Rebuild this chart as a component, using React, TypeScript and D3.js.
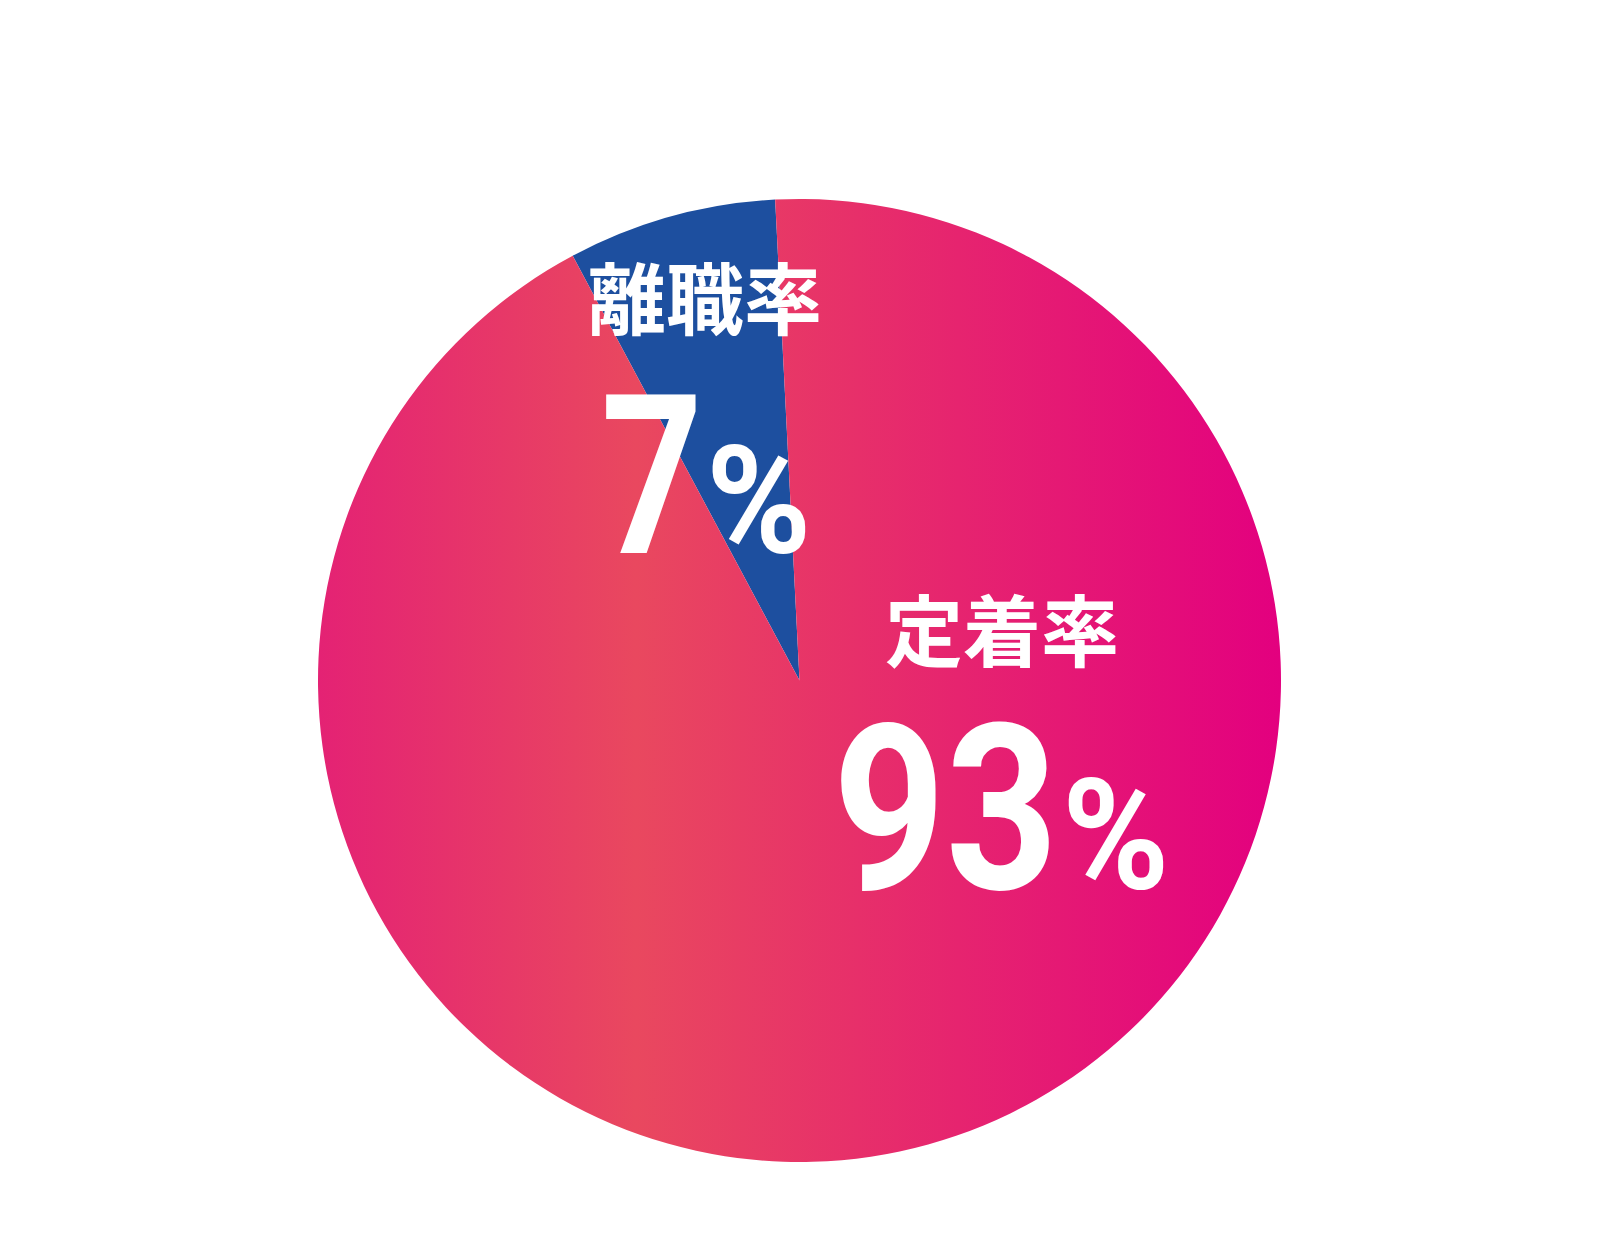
import { useMemo } from "react";
import * as d3 from "d3";

const width = 1600;
const height = 1240;

const centerX = 799.5;
const centerY = 680.5;
const radius = 481.5;

// 割合データ
const categories = ["離職率", "定着率"];
const rates = [7, 93];
const sliceColors = ["#1d4f9f", "url(#pinkGrad)"];

// 表示位置（ラベル）
const labelLayout = [
  { titleX: 705, titleY: 295, numX: 601, numY: 553, numSize: 222, numScale: 0.8, pctX: 706, pctSize: 150, pctScale: 0.95 },
  { titleX: 1002, titleY: 627, numX: 833, numY: 889, numSize: 232, numScale: 0.845, pctX: 1062, pctSize: 154, pctScale: 0.943 },
];

const startDeg = -28.1;

export default function App() {
  const arcs = useMemo(() => {
    const pie = d3
      .pie<number>()
      .sort(null)
      .value((d) => d)
      .startAngle((startDeg * Math.PI) / 180)
      .endAngle((startDeg * Math.PI) / 180 + Math.PI * 2);
    return pie(rates);
  }, []);

  const arc = d3.arc<d3.PieArcDatum<number>>().innerRadius(0).outerRadius(radius);

  return (
    <svg
      width={width}
      height={height}
      viewBox={`0 0 ${width} ${height}`}
      style={{ position: "absolute", top: 0, left: 0, background: "#ffffff" }}
    >
      <defs>
        {/* グループ内座標（中心が原点） */}
        <linearGradient
          id="pinkGrad"
          gradientUnits="userSpaceOnUse"
          x1={-radius}
          y1={0}
          x2={radius}
          y2={0}
        >
          <stop offset="0" stopColor="#e42274" />
          <stop offset="0.33" stopColor="#e9485f" />
          <stop offset="1" stopColor="#e3007f" />
        </linearGradient>
      </defs>

      <g transform={`translate(${centerX},${centerY})`}>
        {arcs.map((d, i) => (
          <path key={categories[i]} d={arc(d) ?? ""} fill={sliceColors[i]} />
        ))}
      </g>

      {categories.map((name, i) => {
        const l = labelLayout[i];
        return (
          <g key={name} fill="#ffffff">
            <text
              x={l.titleX}
              y={l.titleY}
              textAnchor="middle"
              dominantBaseline="central"
              style={{
                fontFamily: "'Noto Sans CJK JP', sans-serif",
                fontWeight: 700,
                fontSize: 78,
              }}
            >
              {name}
            </text>
            <text
              transform={`translate(${l.numX},${l.numY}) scale(${l.numScale},1)`}
              style={{
                fontFamily: "Roboto, sans-serif",
                fontWeight: 700,
                fontSize: l.numSize,
              }}
            >
              {rates[i]}
            </text>
            <text
              transform={`translate(${l.pctX},${l.numY}) scale(${l.pctScale},1)`}
              style={{
                fontFamily: "Roboto, sans-serif",
                fontWeight: 700,
                fontSize: l.pctSize,
              }}
            >
              %
            </text>
          </g>
        );
      })}
    </svg>
  );
}
